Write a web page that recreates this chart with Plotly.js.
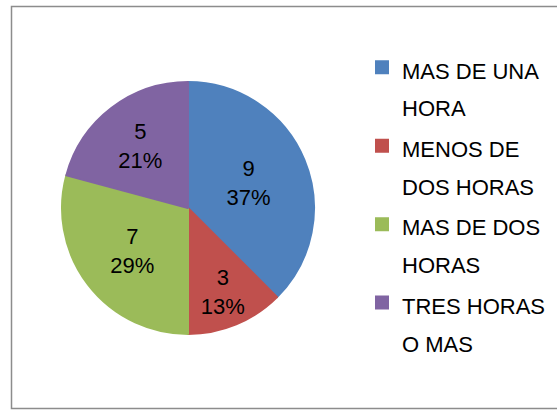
<!DOCTYPE html>
<html>
<head>
<meta charset="utf-8">
<script src="https://cdn.plot.ly/plotly-3.0.1.min.js"></script>
<style>
  html, body { margin: 0; padding: 0; background: #fff; }
  #chart { width: 557px; height: 411px; }
</style>
</head>
<body>
<div id="chart"></div>
<script>
const categories = ["MAS DE UNA<br>HORA", "MENOS DE<br>DOS HORAS", "MAS DE DOS<br>HORAS", "TRES HORAS<br>O MAS"];
const counts = [9, 3, 7, 5];
const percentLabels = ["37%", "13%", "29%", "21%"];
const sliceColors = ["#4F81BD", "#C0504D", "#9BBB59", "#8064A2"];

const W = 557, H = 411;
const cx = 188, cy = 208, r = 126;
const FONT = "Liberation Sans, Arial, sans-serif";

// legend text drawn at 22px inside a larger legend font so entries are spaced like the reference
const legendLabels = categories.map(c =>
  c.split("<br>").map(s => '<span style="font-size:22px">' + s + '</span>').join("<br>"));

const trace = {
  type: "pie",
  labels: legendLabels,
  values: counts,
  text: percentLabels,
  texttemplate: "%{value}<br>%{text}",
  textposition: "inside",
  insidetextorientation: "horizontal",
  sort: false,
  direction: "clockwise",
  rotation: 0,
  marker: { colors: sliceColors, line: { width: 2, color: sliceColors } },
  textfont: { family: FONT, size: 22, color: "#000" },
  hoverinfo: "none",
  domain: { x: [(cx - r) / W, (cx + r) / W], y: [1 - (cy + r) / H, 1 - (cy - r) / H] }
};

const layout = {
  width: W, height: H,
  margin: { l: 0, r: 0, t: 0, b: 0 },
  paper_bgcolor: "#fff",
  font: { family: FONT, size: 22, color: "#000" },
  uniformtext: { mode: "show", minsize: 22 },
  showlegend: true,
  legend: {
    x: 362 / W, y: 1 - 42 / H, xanchor: "left", yanchor: "top",
    valign: "top",
    font: { family: FONT, size: 29, color: "#000" },
    bgcolor: "rgba(0,0,0,0)", itemclick: false, itemdoubleclick: false
  },
  shapes: [{
    type: "rect", xref: "paper", yref: "paper",
    x0: 11.5 / W, x1: 562 / W, y0: 1 - 408.5 / H, y1: 1 - 6.5 / H,
    line: { color: "#8c8c8c", width: 1.5 }, fillcolor: "rgba(0,0,0,0)"
  }]
};

Plotly.newPlot("chart", [trace], layout, { staticPlot: true, displayModeBar: false });
</script>
</body>
</html>
